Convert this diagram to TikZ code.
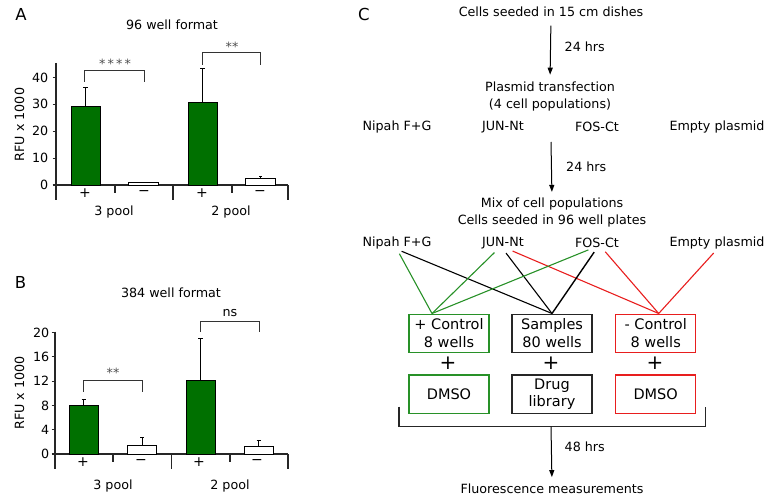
\documentclass[tikz,border=0pt]{standalone}
\usepackage{fontspec}
\setmainfont{DejaVu Sans}
\usetikzlibrary{arrows.meta}
\definecolor{bargreen}{RGB}{0,112,0}
\definecolor{lgreen}{RGB}{40,145,40}
\definecolor{lred}{RGB}{232,30,30}
\begin{document}
\begin{tikzpicture}[x=1pt,y=-1pt,
  every node/.style={inner sep=0pt,font=\fontsize{12.7}{16.5}\selectfont},
  axisline/.style={line width=1.1pt,black!85},
  gbar/.style={draw=black,line width=1pt,fill=bargreen},
  wbar/.style={draw=black,line width=1pt,fill=white},
  errb/.style={line width=1pt},
  brk/.style={line width=1pt,black!80},
  stars/.style={font=\fontsize{12.7}{14}\selectfont,black!70},
  pm/.style={font=\fontsize{14}{16}\selectfont},
  letter/.style={font=\fontsize{16.5}{18}\selectfont},
  arr/.style={-{Triangle[length=7pt,width=5pt]},line width=1pt},
  conn/.style={line width=1.1pt,shorten <=5pt},
  wbox/.style={draw,line width=1.3pt,minimum width=80pt,minimum height=38.5pt,align=center,font=\fontsize{14.5}{17.7}\selectfont},
  bigplus/.style={font=\fontsize{20}{22}\selectfont}
]
\useasboundingbox (0,0) rectangle (771,500);

% ================= Panel A =================
\node[letter] (la) at (21,14) {A};
\node (ta) at (172,25) {96 well format};
\node[rotate=90] (ya) at (19.5,124.5) {RFU x 1000};
\draw[axisline] (56,63) -- (56,200);
\draw[axisline] (56,185) -- (288,185);
\foreach \x in {173,288} \draw[axisline] (\x,185) -- (\x,200);
\foreach \x in {115,232} \draw[axisline] (\x,185) -- (\x,193);
\foreach \v/\y in {0/185,10/158.1,20/131.2,30/104.3,40/77.4}{
  \draw[axisline] (52.5,\y) -- (56,\y);
  \node[anchor=east] at (48.5,\y) {\v};
}
\draw[gbar] (71,185) rectangle (100,106.7);
\draw[errb] (85.5,106.7) -- (85.5,88); \draw[errb] (83.3,88) -- (87.7,88);
\draw[wbar] (128.3,185) rectangle (158.3,182.3);
\draw[gbar] (188,185) rectangle (217,102.3);
\draw[errb] (202.5,102.3) -- (202.5,69); \draw[errb] (200.3,69) -- (204.7,69);
\draw[wbar] (245.5,185) rectangle (275.5,178.3);
\draw[errb] (260.5,178.3) -- (260.5,176.5); \draw[errb] (259,176.5) -- (262,176.5);
\node[pm] at (85,193.5) {+};
\node[pm] at (144,193.5) {\char"2212};
\node[pm] at (202,193.5) {+};
\node[pm] at (260,193.5) {\char"2212};
\node (pa3) at (114,212) {3 pool};
\node (pa2) at (231,212) {2 pool};
\draw[brk] (84,82) -- (84,71) -- (144,71) -- (144,82);
\node[stars] at (115,64) {*\,*\,*\,*};
\draw[brk] (202,65) -- (202,53) -- (260,53) -- (260,65);
\node[stars] at (232,47) {**};

% ================= Panel B =================
\node[letter] (lb) at (20.5,282) {B};
\node (tb) at (171,293) {384 well format};
\node[rotate=90] (yb) at (19.5,393) {RFU x 1000};
\draw[axisline] (55,331.5) -- (55,469);
\draw[axisline] (55,454) -- (288,454);
\foreach \x in {171.7,288} \draw[axisline] (\x,454) -- (\x,469);
\foreach \x in {113,230} \draw[axisline] (\x,454) -- (\x,462);
\foreach \v/\y in {0/454,4/429.7,8/405.4,12/381.1,16/356.8,20/332.5}{
  \draw[axisline] (51.5,\y) -- (55,\y);
  \node[anchor=east] at (49.5,\y) {\v};
}
\draw[gbar] (69,454) rectangle (98.3,405.4);
\draw[errb] (83.7,405.4) -- (83.7,399); \draw[errb] (81.5,399) -- (85.9,399);
\draw[wbar] (127.7,454) rectangle (156.7,445);
\draw[errb] (142.2,445) -- (142.2,437.3); \draw[errb] (140,437.3) -- (144.4,437.3);
\draw[gbar] (186,454) rectangle (215,380);
\draw[errb] (200.5,380) -- (200.5,338.6); \draw[errb] (198.3,338.6) -- (202.7,338.6);
\draw[wbar] (244.3,454) rectangle (273.3,446.7);
\draw[errb] (258.8,446.7) -- (258.8,440.6); \draw[errb] (256.6,440.6) -- (261,440.6);
\node[pm] at (83,462.5) {+};
\node[pm] at (141,462.5) {\char"2212};
\node[pm] at (199,462.5) {+};
\node[pm] at (257,462.5) {\char"2212};
\node (pb3) at (113,486) {3 pool};
\node (pb2) at (230,486) {2 pool};
\draw[brk] (83,391.7) -- (83,380.7) -- (142,380.7) -- (142,391.7);
\node[stars] at (113,373) {**};
\draw[brk] (200,332) -- (200,321.7) -- (259,321.7) -- (259,332);
\node (ns) at (230,313) {ns};

% ================= Panel C =================
\node[letter] (lc) at (364,14) {C};
\node (t1) at (551,12) {Cells seeded in 15 cm dishes};
\node[align=center] (p1) at (550,96.3) {Plasmid transfection\\(4 cell populations)};
\draw[arr,shorten <=8.4pt,shorten >=7pt] (t1.south) -- (p1.north);
\node[anchor=west] (h1) at (564.5,47) {24 hrs};

\node (n1) at (397,127) {Nipah F+G};
\node (j1) at (503,127) {JUN-Nt};
\node (f1) at (597,127) {FOS-Ct};
\node (e1) at (717,127) {Empty plasmid};

\coordinate (a2s) at (551,142);
\node[align=center] (m1) at (552,212.5) {Mix of cell populations\\Cells seeded in 96 well plates};
\draw[arr,shorten >=6pt] (a2s) -- (m1.north);
\node[anchor=west] (h2) at (566,167) {24 hrs};

\node (n2) at (397,243) {Nipah F+G};
\node (j2) at (503,243) {JUN-Nt};
\node (f2) at (597,243) {FOS-Ct};
\node (e2) at (717,243) {Empty plasmid};

\node[wbox,draw=lgreen] (pc) at (449,333.4) {+ Control\\8 wells};
\node[wbox,draw=black!85] (sm) at (552,333.4) {Samples\\80 wells};
\node[wbox,draw=lred] (nc) at (655.7,333.4) {- Control\\8 wells};

% connectors
\draw[conn,lgreen] (n2.south) -- ([xshift=-17pt]pc.north);
\draw[conn,black] (n2.south) -- (sm.north);
\draw[conn,lgreen] ([xshift=-5pt]j2.south) -- ([xshift=-17pt]pc.north);
\draw[conn,black] (j2.south) -- (sm.north);
\draw[conn,lred] ([xshift=5pt]j2.south) -- ([xshift=3pt]nc.north);
\draw[conn,lgreen] ([xshift=-4pt]f2.south) -- ([xshift=-17pt]pc.north);
\draw[conn,black,line width=1.4pt] (f2.south) -- (sm.north);
\draw[conn,lred] ([xshift=5pt]f2.south) -- ([xshift=3pt]nc.north);
\draw[conn,lred] (e2.south) -- ([xshift=3pt]nc.north);

\node[bigplus] (pl1) at (448,363.3) {+};
\node[bigplus] (pl2) at (551,363.3) {+};
\node[bigplus] (pl3) at (655,363.3) {+};

\node[wbox,draw=lgreen] (pd) at (449,394.2) {DMSO};
\node[wbox,draw=black!85] (dl) at (552,394.2) {Drug\\library};
\node[wbox,draw=lred] (nd) at (655.7,394.2) {DMSO};

\coordinate (bl) at (399,406.7);
\coordinate (br) at (705.7,406.7);
\coordinate (bm) at (551,426.7);
\draw[line width=1.1pt,black!85] (bl) -- (399,426.7) -- (705.7,426.7) -- (br);
\node (fl) at (552,488.5) {Fluorescence measurements};
\draw[arr,shorten >=6.3pt] (bm) -- (fl.north);
\node[anchor=west] (h3) at (564.5,446.7) {48 hrs};
\end{tikzpicture}
\end{document}
